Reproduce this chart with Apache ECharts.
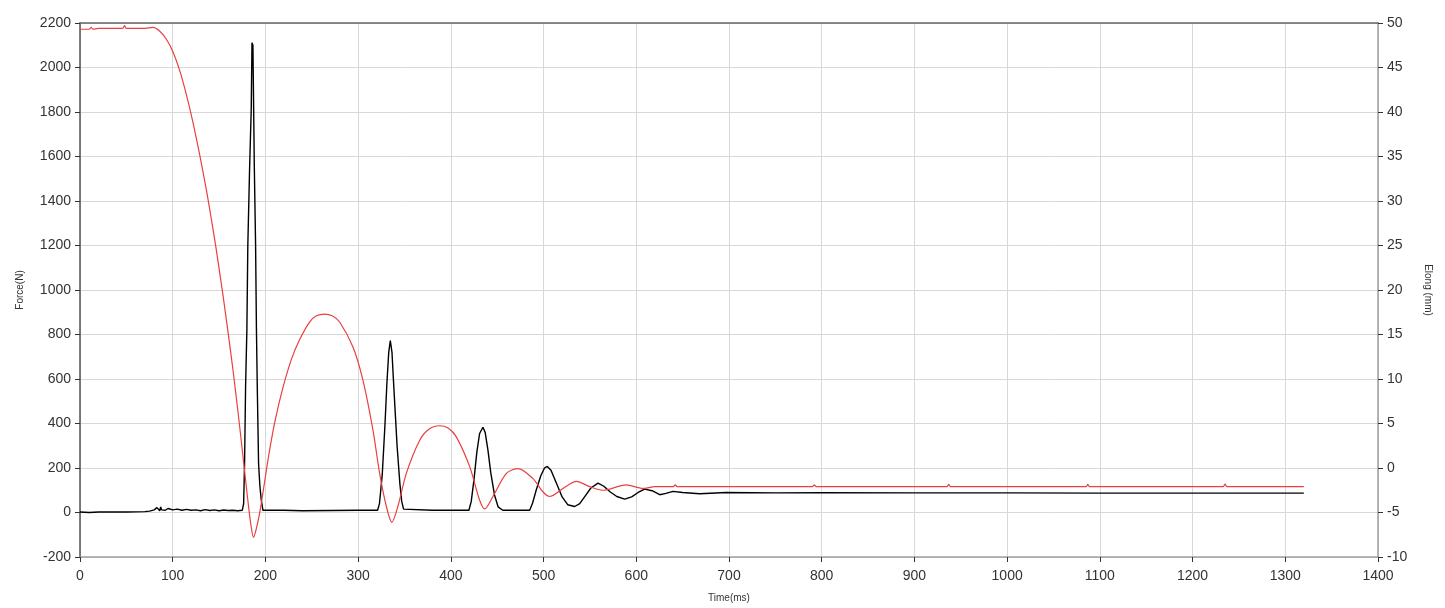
<!DOCTYPE html>
<html>
<head>
<meta charset="utf-8">
<script src="https://cdn.jsdelivr.net/npm/echarts@6/dist/echarts.min.js"></script>
<style>
html,body{margin:0;padding:0;background:#fff;}
#chart{width:1445px;height:608px;}
</style>
</head>
<body>
<div id="chart"></div>
<script>
// Elongation (mm), right axis
const elongTime = [0,10,12,14,20,30,40,46,48,50,60,70,78.6,85.8,93,100.1,107.4,114.6,121.7,128.9,136.2,141.6,146.9,151.3,154.1,159.5,164.9,170.3,175.7,181,184.5,187.2,190,193.7,198,204.5,211,218.8,228,236.8,247.6,255,263.8,272,280,294.4,305.1,315.9,323.2,330.4,336.4,342.9,352,366.3,377,387.9,397,405.9,420.3,431,436.4,445.4,459.9,472.4,488.6,499.4,506.6,520.9,535.4,549.7,564,589,607,620,640,642,644,660,700,790,792,794,850,935,937,939,1000,1085,1087,1089,1150,1233,1235,1237,1320];
const elongValues = [49.3,49.3,49.5,49.3,49.4,49.4,49.4,49.4,49.7,49.4,49.4,49.4,49.5,49.1,48.2,46.8,44.7,42.0,38.9,35.3,31.3,28.0,24.6,21.5,19.5,15.4,11.1,6.4,1.4,-3.6,-6.5,-7.8,-6.9,-5.1,-2.3,2.0,5.6,9.0,12.2,14.4,16.4,17.1,17.3,17.1,16.4,13.6,9.9,4.3,-0.6,-4.3,-6.1,-4.3,-0.6,3.1,4.4,4.75,4.5,3.5,0.15,-3.6,-4.6,-3.2,-0.6,-0.07,-1.2,-2.7,-3.2,-2.3,-1.5,-2.1,-2.5,-1.9,-2.3,-2.1,-2.1,-1.9,-2.1,-2.1,-2.1,-2.1,-1.9,-2.1,-2.1,-2.1,-1.85,-2.1,-2.1,-2.1,-1.85,-2.1,-2.1,-2.1,-1.8,-2.1,-2.1];

// Force (N), left axis
const forceTime = [0,10,20,30,31,40,50,60,70,75,80,83,85,86,87,88,90,92,95,100,105,110,115,120,125,130,135,140,145,150,155,160,165,170,175,176.5,177.5,178.6,180,181,183,184.7,185.5,186.5,187.3,188,189.4,190.3,191.2,192.6,194,195.5,197.3,220,240,300,321,323,326,329,331,333,334.7,336.5,338,340,342,345,347,349,350,380,419.5,422,425,428,431,434.6,437,440,443,447,451,456,485,488,492,497,501,504,508,514,520,526,533.6,539,545,551,558.7,565,572,579,587.5,595,602,609,617,625.3,632,639.6,650,668.4,697,750,800,900,1000,1100,1200,1320];
const forceValues = [2,0,2,2,-3,2,2,3,4,6,12,22,28,8,25,12,20,10,18,12,15,10,14,10,12,8,13,9,12,8,11,9,10,8,10,40,220,567,823,1198,1559,1814,2111,2100,1814,1559,1198,823,567,220,120,57,10,10,8,10,10,40,170,400,580,720,773,720,600,450,300,130,50,15,10,10,10,50,150,270,355,383,360,280,180,80,25,10,10,40,100,165,200,207,190,130,70,35,27,40,75,110,132,118,92,72,60,70,90,105,98,80,86,95,90,84,90,88,89,88,88,87,87,87];

const xTicks = {min:0, max:1400, interval:100};

const elongData = elongTime.map((t,i)=>[t, elongValues[i]]);
const forceData = forceTime.map((t,i)=>[t, forceValues[i]]);

const chart = echarts.init(document.getElementById('chart'), null, {renderer:'canvas'});
const plain = v => String(v);
const labelStyle = {color:'#333', fontSize:14, fontFamily:'Liberation Sans, Arial, sans-serif', formatter:plain};
const nameStyle = {color:'#333', fontSize:10, fontFamily:'Liberation Sans, Arial, sans-serif'};
chart.setOption({
  animation:false,
  backgroundColor:'#fff',
  grid:{left:80, right:67, top:23, bottom:51, containLabel:false},
  xAxis:[{
    type:'value', min:xTicks.min, max:xTicks.max, interval:xTicks.interval,
    name:'Time(ms)', nameLocation:'middle', nameGap:36, nameTextStyle:nameStyle,
    axisLine:{show:true, onZero:false, lineStyle:{color:'#a0a0a0', width:1.5}},
    axisTick:{show:true, length:5, lineStyle:{color:'#333'}},
    axisLabel:{...labelStyle, margin:12},
    splitLine:{show:true, lineStyle:{color:'#d8d8d8', width:1}}
  },{
    type:'value', position:'top', min:xTicks.min, max:xTicks.max, interval:xTicks.interval,
    axisLine:{show:true, onZero:false, lineStyle:{color:'#666', width:1.5}},
    axisTick:{show:false}, axisLabel:{show:false}, splitLine:{show:false}
  }],
  yAxis:[{
    type:'value', min:-200, max:2200, interval:200, position:'left',
    name:'Force(N)', nameLocation:'middle', nameGap:55, nameTextStyle:nameStyle,
    axisLine:{show:true, onZero:false, lineStyle:{color:'#555', width:1.5}},
    axisTick:{show:true, length:5, lineStyle:{color:'#333'}},
    axisLabel:{...labelStyle, margin:9},
    splitLine:{show:true, lineStyle:{color:'#d8d8d8', width:1}}
  },{
    type:'value', min:-10, max:50, interval:5, position:'right',
    name:'Elong (mm)', nameLocation:'middle', nameGap:45, nameRotate:-90, nameTextStyle:nameStyle,
    axisLine:{show:true, onZero:false, lineStyle:{color:'#a0a0a0', width:1.5}},
    axisTick:{show:true, length:5, lineStyle:{color:'#333'}},
    axisLabel:{...labelStyle, margin:9},
    splitLine:{show:false}
  }],
  series:[{
    name:'Force', type:'line', xAxisIndex:0, yAxisIndex:0, data:forceData,
    showSymbol:false, symbol:'none', lineStyle:{color:'#000', width:1.4}, z:3
  },{
    name:'Elong', type:'line', xAxisIndex:0, yAxisIndex:1, data:elongData,
    showSymbol:false, symbol:'none', smooth:0.3, lineStyle:{color:'#e8403f', width:1.2}, z:4
  }]
});
</script>
</body>
</html>
